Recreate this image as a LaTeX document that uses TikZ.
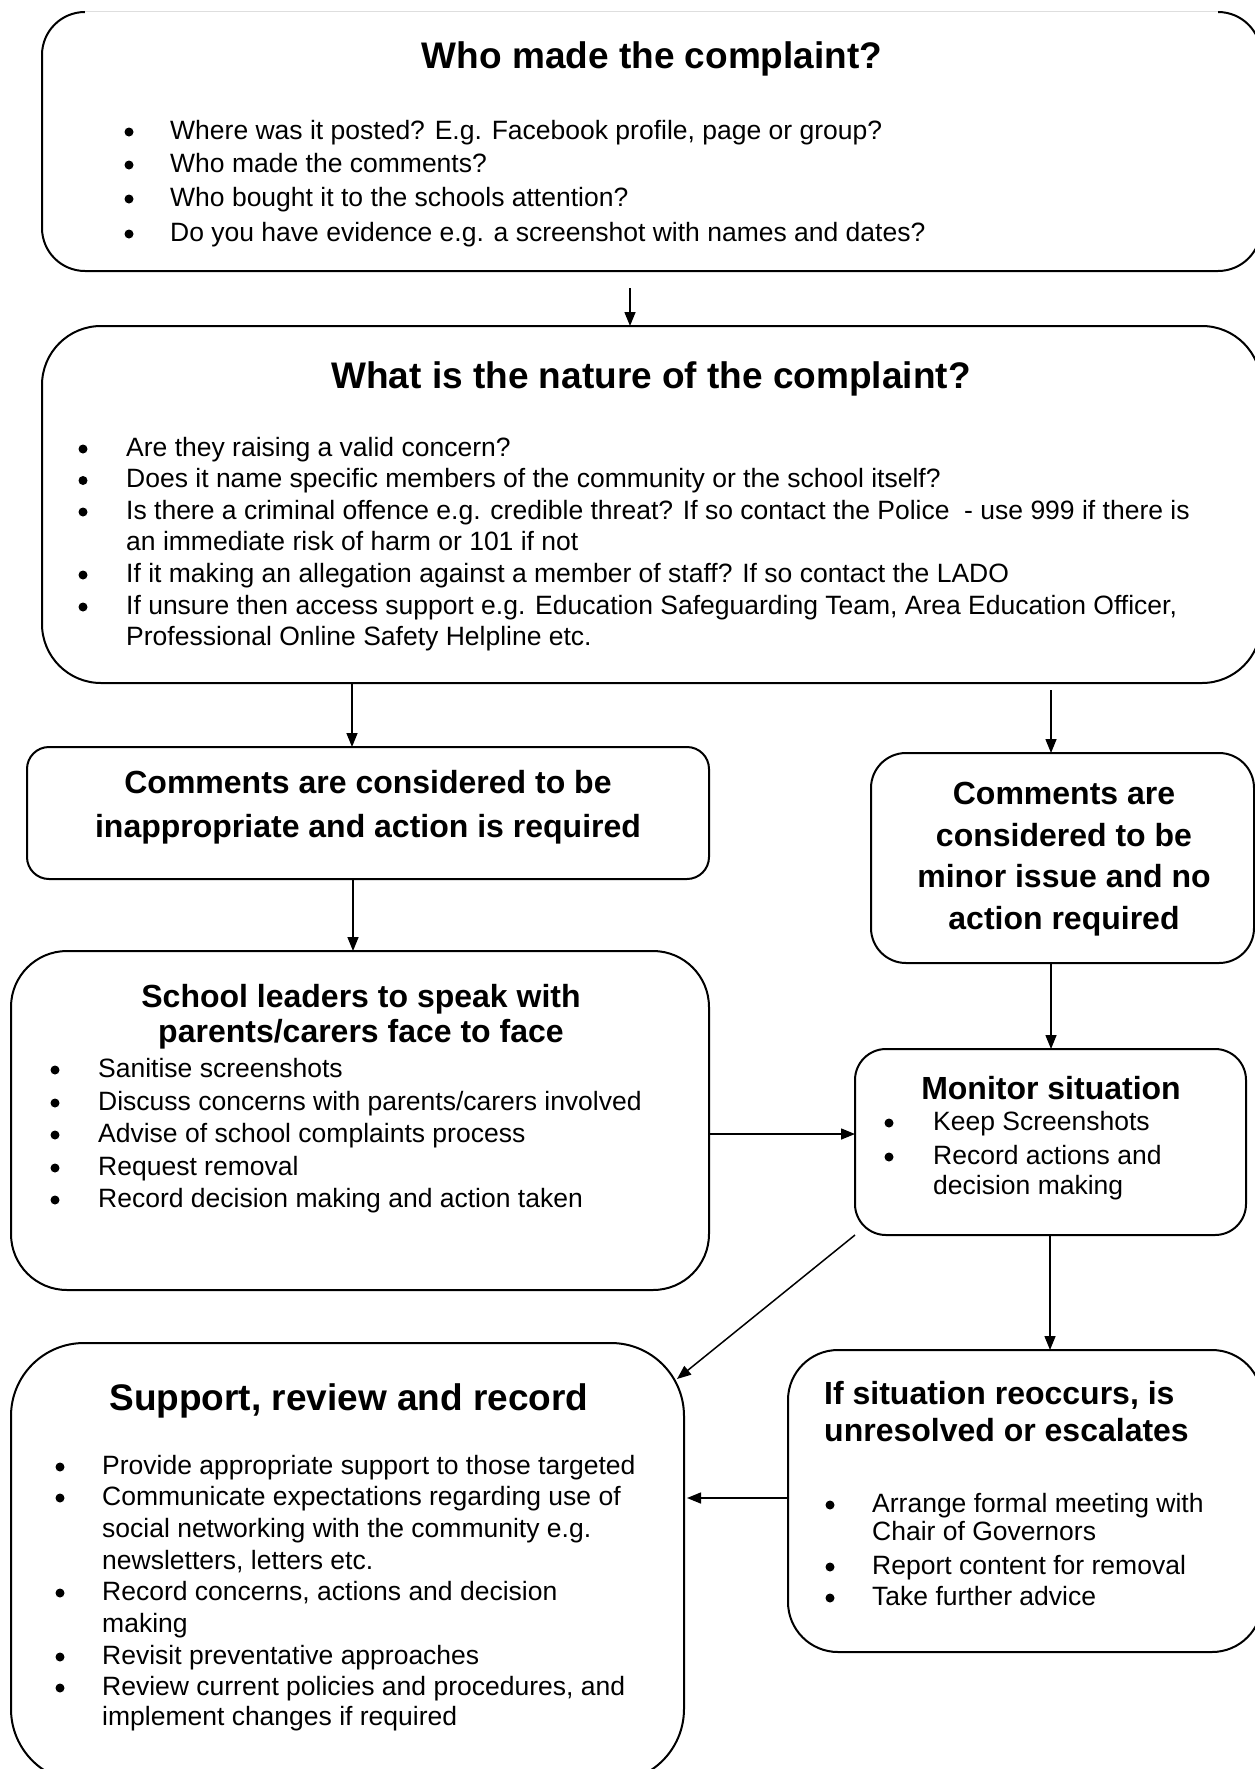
\documentclass[tikz,border=0pt]{standalone}
\usepackage{fontspec}
\setmainfont{Liberation Sans}
\usetikzlibrary{arrows.meta}

\newcommand{\bodyfont}{\fontsize{26.5}{31}\selectfont}
\newcommand{\headfont}{\fontsize{37}{44}\selectfont\bfseries}
\newcommand{\subfont}{\fontsize{32}{40}\selectfont\bfseries}

\begin{document}
\begin{tikzpicture}[x=1pt,y=-1pt,
        box/.style={draw,line width=2pt,rounded corners=#1,inner sep=0pt,outer sep=0pt,anchor=north west},
        flow/.style={-{Triangle[length=14pt,width=11pt]},line width=1.5pt},
        boxtitle/.style={anchor=base,font=\headfont,inner sep=0pt},
        boxsub/.style={anchor=base,font=\subfont,inner sep=0pt},
        bulletmark/.style={circle,fill,inner sep=0pt,minimum size=9pt},
        itemtext/.style={anchor=base west,font=\bodyfont,inner sep=0pt}]

    \useasboundingbox (0,0) rectangle (1255,1769);

    % boxes
    \node[box=43pt,minimum width=1219pt,minimum height=259pt] (who) at (42,12) {};
    \node[box=59pt,minimum width=1219pt,minimum height=357pt] (nature) at (42,326) {};
    \node[box=22pt,minimum width=682pt,minimum height=132pt] (inappropriate) at (27,747) {};
    \node[box=35pt,minimum width=383pt,minimum height=210pt] (minor) at (871,753) {};
    \node[box=56pt,minimum width=698pt,minimum height=339pt] (leaders) at (11,951) {};
    \node[box=31pt,minimum width=391pt,minimum height=186pt] (monitor) at (855,1049) {};
    \node[box=73pt,minimum width=673pt,minimum height=439pt] (support) at (11,1343) {};
    \node[box=50pt,minimum width=474pt,minimum height=302pt] (escalate) at (788,1350) {};

    % faint top edge of the first box
    \draw[white,line width=4pt] ([xshift=43pt]who.north west) -- ([xshift=-43pt]who.north east);
    \draw[black!13,line width=1pt] ([xshift=43pt]who.north west) -- ([xshift=-43pt]who.north east);

    % who made the complaint
    \node[boxtitle] (whohead) at (652,68) {Who made the complaint?};
    \foreach \y/\b/\t [count=\i] in {
            139/1/{Where was it posted? E.g. Facebook profile, page or group?},
            172/1/{Who made the comments?},
            206/1/{Who bought it to the schools attention?},
            241/1/{Do you have evidence e.g. a screenshot with names and dates?}} {
        \ifnum\b=1 \node[bulletmark] (whob\i) at (129,\y-7) {}; \fi
        \node[itemtext] (whot\i) at (170,\y) {\t};
    }

    % nature of the complaint
    \node[boxtitle] (naturehead) at (651,388) {What is the nature of the complaint?};
    \foreach \y/\b/\t [count=\i] in {
            456/1/{Are they raising a valid concern?},
            487.5/1/{Does it name specific members of the community or the school itself?},
            519/1/{Is there a criminal offence e.g. credible threat? If so contact the Police\ \ - use 999 if there is},
            550/0/{an immediate risk of harm or 101 if not},
            582/1/{If it making an allegation against a member of staff? If so contact the LADO},
            614/1/{If unsure then access support e.g. Education Safeguarding Team, Area Education Officer,},
            645/0/{Professional Online Safety Helpline etc.}} {
        \ifnum\b=1 \node[bulletmark] (natureb\i) at (83,\y-7) {}; \fi
        \node[itemtext] (naturet\i) at (126,\y) {\t};
    }

    % inappropriate
    \node[boxsub] (inapp1) at (368,793) {Comments are considered to be};
    \node[boxsub] (inapp2) at (368,837) {inappropriate and action is required};

    % minor issue
    \node[boxsub] (minor1) at (1064,804) {Comments are};
    \node[boxsub] (minor2) at (1064,846) {considered to be};
    \node[boxsub] (minor3) at (1064,887) {minor issue and no};
    \node[boxsub] (minor4) at (1064,929) {action required};

    % school leaders
    \node[boxsub] (leaders1) at (361,1007) {School leaders to speak with};
    \node[boxsub] (leaders2) at (361,1042) {parents/carers face to face};
    \foreach \y/\b/\t [count=\i] in {
            1077/1/{Sanitise screenshots},
            1110/1/{Discuss concerns with parents/carers involved},
            1142/1/{Advise of school complaints process},
            1175/1/{Request removal},
            1207/1/{Record decision making and action taken}} {
        \ifnum\b=1 \node[bulletmark] (leadersb\i) at (55,\y-7) {}; \fi
        \node[itemtext] (leaderst\i) at (98,\y) {\t};
    }

    % monitor
    \node[boxsub] (monitorhead) at (1051,1099) {Monitor situation};
    \foreach \y/\b/\t [count=\i] in {
            1130/1/{Keep Screenshots},
            1164/1/{Record actions and},
            1194/0/{decision making}} {
        \ifnum\b=1 \node[bulletmark] (monitorb\i) at (889,\y-7) {}; \fi
        \node[itemtext] (monitort\i) at (933,\y) {\t};
    }

    % support, review and record
    \node[boxtitle] (supporthead) at (349,1410) {Support, review and record};
    \foreach \y/\b/\t [count=\i] in {
            1474/1/{Provide appropriate support to those targeted},
            1505/1/{Communicate expectations regarding use of},
            1537/0/{social networking with the community e.g.},
            1569/0/{newsletters, letters etc.},
            1600/1/{Record concerns, actions and decision},
            1632/0/{making},
            1664/1/{Revisit preventative approaches},
            1695/1/{Review current policies and procedures, and},
            1725/0/{implement changes if required}} {
        \ifnum\b=1 \node[bulletmark] (supportb\i) at (60,\y-7) {}; \fi
        \node[itemtext] (supportt\i) at (102,\y) {\t};
    }

    % escalates
    \node[anchor=base west,font=\subfont,inner sep=0pt] (escalate1) at (824,1404) {If situation reoccurs, is};
    \node[anchor=base west,font=\subfont,inner sep=0pt] (escalate2) at (824,1441) {unresolved or escalates};
    \foreach \y/\b/\t [count=\i] in {
            1512/1/{Arrange formal meeting with},
            1540/0/{Chair of Governors},
            1574/1/{Report content for removal},
            1605/1/{Take further advice}} {
        \ifnum\b=1 \node[bulletmark] (escalateb\i) at (830,\y-7) {}; \fi
        \node[itemtext] (escalatet\i) at (872,\y) {\t};
    }

    % connectors
    \coordinate (c1) at (630,288);
    \coordinate (c2) at (352,683);
    \coordinate (c3) at (1051,690);
    \coordinate (c4) at (353,879);
    \coordinate (c5) at (1051,963);
    \coordinate (c6) at (709,1134);
    \coordinate (c7) at (677,1379);
    \coordinate (c8) at (1050,1235);
    \coordinate (c9) at (687,1498);

    \draw[flow] (c1) -- (c1 |- nature.north);
    \draw[flow] (c2) -- (c2 |- inappropriate.north);
    \draw[flow] (c3) -- (c3 |- minor.north);
    \draw[flow] (c4) -- (c4 |- leaders.north);
    \draw[flow] (c5) -- (c5 |- monitor.north);
    \draw[flow] (c6) -- (c6 -| monitor.west);
    \draw[flow] (monitor.south west) -- (c7);
    \draw[flow] (c8) -- (c8 |- escalate.north);
    \draw[flow] (c9 -| escalate.west) -- (c9);
\end{tikzpicture}
\end{document}
